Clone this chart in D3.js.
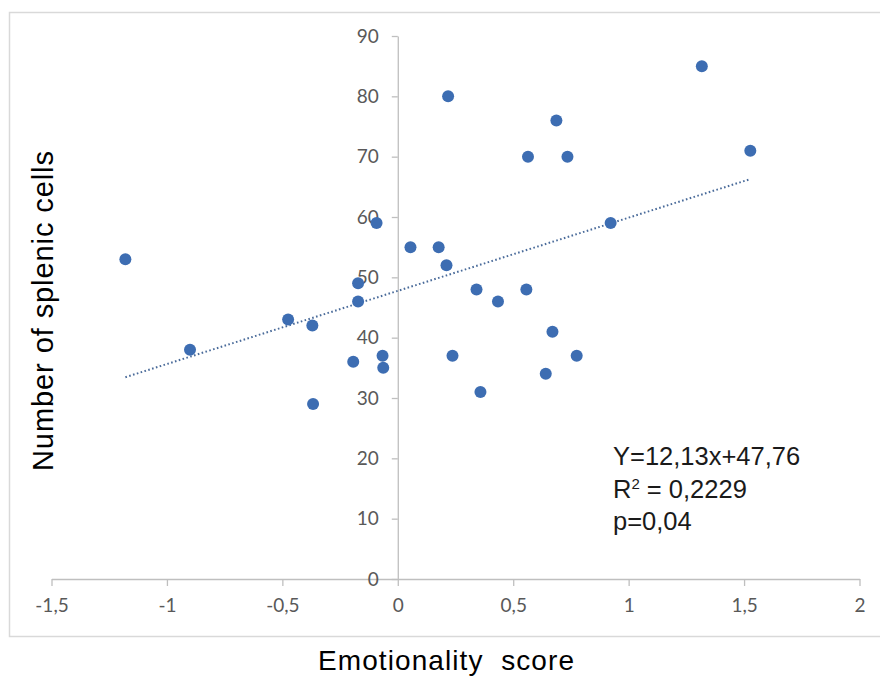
<!DOCTYPE html>
<html>
<head>
<meta charset="utf-8">
<script src="https://cdn.jsdelivr.net/npm/d3@7"></script>
<style>
  body { margin: 0; background: #fff; }
  svg { display: block; }
</style>
</head>
<body>
<div id="chart"></div>
<script>
// emotionality score (x) and number of splenic cells (y), one entry per animal
var emotionality = [-1.18, -0.9, -0.475, -0.37, -0.367, -0.193, -0.172, -0.172, -0.092, -0.066, -0.063,
                    0.055, 0.177, 0.211, 0.218, 0.237, 0.341, 0.358, 0.434, 0.557, 0.564, 0.641,
                    0.67, 0.687, 0.735, 0.775, 0.922, 1.317, 1.527];
var splenicCells = [53, 38, 43, 42, 29, 36, 49, 46, 59, 37, 35,
                    55, 55, 52, 80, 37, 48, 31, 46, 48, 70, 34,
                    41, 76, 70, 37, 59, 85, 71];

var xTicks = [-1.5, -1, -0.5, 0, 0.5, 1, 1.5, 2];
var yTicks = [0, 10, 20, 30, 40, 50, 60, 70, 80, 90];

// linear trendline from the figure
var slope = 12.13, intercept = 47.76;
var statLines = ["Y=12,13x+47,76", "R2 = 0,2229", "p=0,04"];

var props = {
  width: 880,
  height: 676,
  left: 51.5,
  right: 859.5,
  top: 36,
  bottom: 579
};

var svg = d3.select("#chart").append("svg")
  .attr("width", props.width)
  .attr("height", props.height);

// chart area frame
svg.append("rect")
  .attr("x", 9.5).attr("y", 12.5)
  .attr("width", 880).attr("height", 624)
  .attr("fill", "none")
  .attr("stroke", "#d9d9d9")
  .attr("stroke-width", 1.5);

var scales = {
  x: d3.scaleLinear().domain([-1.5, 2]).range([props.left, props.right]),
  y: d3.scaleLinear().domain([0, 90]).range([props.bottom, props.top])
};

var fmt = function(d){ return String(d).replace(".", ","); };

// x axis sits on y = 0
var xAxis = svg.append("g")
  .attr("class", "axis")
  .attr("transform", "translate(0," + scales.y(0) + ")")
  .call(d3.axisBottom(scales.x).tickValues(xTicks).tickFormat(fmt).tickSize(7).tickSizeOuter(0).tickPadding(13));

// y axis sits on x = 0
var yAxis = svg.append("g")
  .attr("class", "axis")
  .attr("transform", "translate(" + scales.x(0) + ",0)")
  .call(d3.axisLeft(scales.y).tickValues(yTicks).tickFormat(fmt).tickSize(6).tickSizeOuter(0).tickPadding(13));

svg.selectAll(".axis path, .axis line")
  .attr("stroke", "#bfbfbf")
  .attr("stroke-width", 1.3);
svg.selectAll(".axis text")
  .attr("fill", "#595959")
  .style("font-family", "Lato, 'Open Sans', sans-serif")
  .style("font-size", "19px");

// trendline over the data range
var xExtent = d3.extent(emotionality);
var trend = xExtent.map(function(v){ return {x: v, y: slope * v + intercept}; });
var trendLine = d3.line()
  .x(function(d){ return scales.x(d.x); })
  .y(function(d){ return scales.y(d.y); });

svg.append("path")
  .datum(trend)
  .attr("d", trendLine)
  .attr("fill", "none")
  .attr("stroke", "#4a6b9a")
  .attr("stroke-width", 2)
  .attr("stroke-dasharray", "1.6,2.4");

// points
svg.append("g").selectAll("circle")
  .data(emotionality.map(function(v, i){ return {x: v, y: splenicCells[i]}; }))
  .enter()
  .append("circle")
  .attr("cx", function(d){ return scales.x(d.x); })
  .attr("cy", function(d){ return scales.y(d.y); })
  .attr("r", 6)
  .attr("fill", "#3d6db2");

// stats annotation
var stats = svg.append("text")
  .attr("x", 613)
  .attr("y", 465)
  .attr("fill", "#1a1a1a")
  .style("font-family", "'Liberation Sans', Arial, sans-serif")
  .style("font-size", "25.5px");

stats.append("tspan").attr("x", 613).attr("y", 465).text(statLines[0]);
var r2 = stats.append("tspan").attr("x", 613).attr("y", 498);
r2.append("tspan").text("R");
r2.append("tspan").attr("dy", -9).style("font-size", "15px").text("2");
r2.append("tspan").attr("dy", 9).text(statLines[1].slice(2));
stats.append("tspan").attr("x", 613).attr("y", 530).text(statLines[2]);

// axis titles
svg.append("text")
  .attr("x", 446)
  .attr("y", 670)
  .attr("text-anchor", "middle")
  .attr("fill", "#000")
  .style("font-family", "'Liberation Sans', Arial, sans-serif")
  .style("font-size", "28px")
  .style("white-space", "pre")
  .attr("textLength", 256)
  .text("Emotionality  score");

svg.append("text")
  .attr("transform", "translate(53,311) rotate(-90)")
  .attr("text-anchor", "middle")
  .attr("fill", "#000")
  .style("font-family", "'Liberation Sans', Arial, sans-serif")
  .style("font-size", "29px")
  .attr("textLength", 320)
  .text("Number of splenic cells");
</script>
</body>
</html>
